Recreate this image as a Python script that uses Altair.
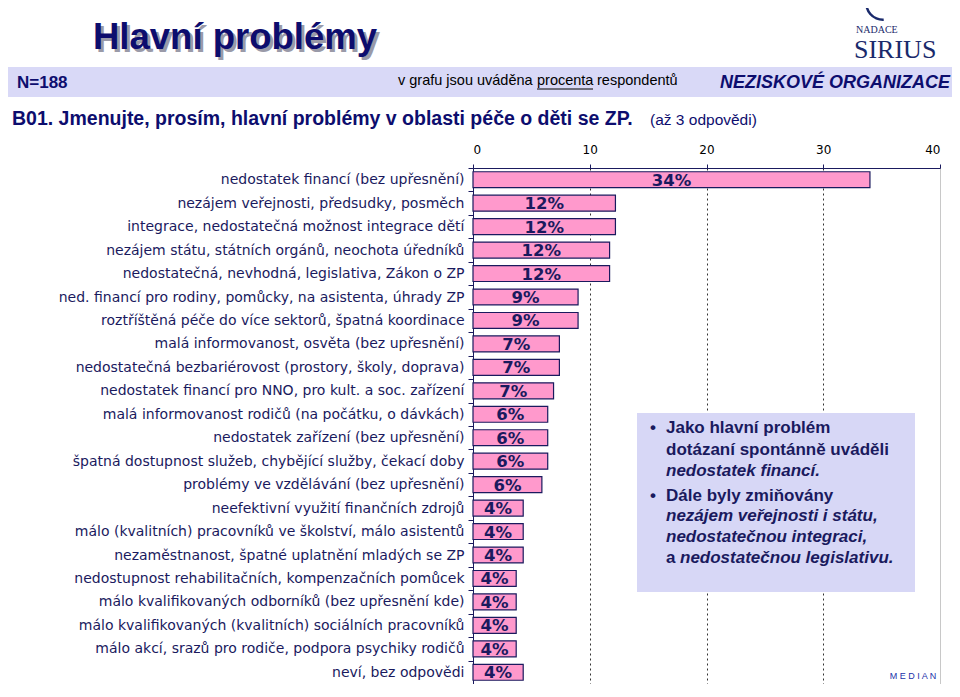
import altair as alt
import pandas as pd

categories = [
    "nedostatek financí (bez upřesnění)",
    "nezájem veřejnosti, předsudky, posměch",
    "integrace, nedostatečná možnost integrace dětí",
    "nezájem státu, státních orgánů, neochota úředníků",
    "nedostatečná, nevhodná, legislativa, Zákon o ZP",
    "ned. financí pro rodiny, pomůcky, na asistenta, úhrady ZP",
    "roztříštěná péče do více sektorů, špatná koordinace",
    "malá informovanost, osvěta (bez upřesnění)",
    "nedostatečná bezbariérovost (prostory, školy, doprava)",
    "nedostatek financí pro NNO, pro kult. a soc. zařízení",
    "malá informovanost rodičů (na počátku, o dávkách)",
    "nedostatek zařízení (bez upřesnění)",
    "špatná dostupnost služeb, chybějící služby, čekací doby",
    "problémy ve vzdělávání (bez upřesnění)",
    "neefektivní využití finančních zdrojů",
    "málo (kvalitních) pracovníků ve školství, málo asistentů",
    "nezaměstnanost, špatné uplatnění mladých se ZP",
    "nedostupnost rehabilitačních, kompenzačních pomůcek",
    "málo kvalifikovaných odborníků (bez upřesnění kde)",
    "málo kvalifikovaných (kvalitních) sociálních pracovníků",
    "málo akcí, srazů pro rodiče, podpora psychiky rodičů",
    "neví, bez odpovědi",
]
values = [34.0, 12.2, 12.2, 11.7, 11.7, 9.0, 9.0, 7.4, 7.4, 6.9, 6.4, 6.4,
          6.4, 5.9, 4.3, 4.3, 4.3, 3.7, 3.7, 3.7, 3.7, 4.3]
labels = ["34%", "12%", "12%", "12%", "12%", "9%", "9%", "7%", "7%", "7%",
          "6%", "6%", "6%", "6%", "4%", "4%", "4%", "4%", "4%", "4%", "4%", "4%"]
x_ticks = [0, 10, 20, 30, 40]

NAVY = "#1a1a5e"
TITLE_NAVY = "#0d0d6e"
PINK = "#ff99cc"
BAND = "#d9d9f7"
BOX = "#d7d7f6"

df = pd.DataFrame({"cat": categories, "v": values, "lab": labels})

x_scale = alt.Scale(domain=[0, 40], nice=False)
x_axis = alt.Axis(
    orient="top", values=x_ticks, title=None,
    labelFont="DejaVu Sans", labelFontSize=12, labelColor="#000000",
    labelPadding=8, tickSize=4, tickColor=NAVY, domainColor=NAVY,
    grid=True, gridColor="#333333", gridDash=[2, 3], gridWidth=1,
    gridOpacity={"condition": {"test": "datum.value == 0 || datum.value == 40", "value": 0}, "value": 1},
)
y_scale = alt.Scale(paddingInner=0, paddingOuter=0)
y_axis = alt.Axis(
    title=None, labelLimit=0, labelFont="DejaVu Sans", labelFontSize=14,
    labelColor=NAVY, labelPadding=4, tickSize=5, tickColor=NAVY,
    tickBand="extent", domainColor=NAVY, grid=False,
)

base = alt.Chart(df)
bars = base.mark_bar(color=PINK, stroke=NAVY, strokeWidth=1.2,
                     height={"band": 0.68}).encode(
    x=alt.X("v:Q", scale=x_scale, axis=x_axis, title=None),
    y=alt.Y("cat:N", sort=categories, scale=y_scale, axis=y_axis, title=None),
)
bar_text = base.transform_calculate(mid="datum.v / 2").mark_text(
    font="DejaVu Sans", fontWeight="bold", fontSize=16.5, color=NAVY,
    align="center", baseline="middle", dy=1,
).encode(
    x=alt.X("mid:Q", scale=x_scale, axis=x_axis, title=None),
    y=alt.Y("cat:N", sort=categories, scale=y_scale, axis=y_axis, title=None),
    text="lab:N",
)

one = pd.DataFrame({"a": [0]})


def note(text, x, y, size, weight="normal", style="normal", color=NAVY,
         font="Liberation Sans", align="left", baseline="middle"):
    return alt.Chart(pd.DataFrame({"t": [text]})).mark_text(
        font=font, fontSize=size, fontWeight=weight, fontStyle=style,
        color=color, align=align, baseline=baseline,
    ).encode(x=alt.value(x), y=alt.value(y), text="t:N")


def box(x, x2, y, y2, color):
    return alt.Chart(one).mark_rect(color=color).encode(
        x=alt.value(x), x2=alt.value(x2), y=alt.value(y), y2=alt.value(y2))


band = box(-465, 479, -101, -71, BAND)
textbox = box(164, 442, 245, 424, BOX)

title_shadow = note("Hlavní problémy", -377, -116, 36.5, weight="bold",
                    color="#9a9aa8", baseline="alphabetic")
title = note("Hlavní problémy", -380, -119, 36.5, weight="bold",
             color=TITLE_NAVY, baseline="alphabetic")
n_txt = note("N=188", -456, -85, 17, weight="bold", color=TITLE_NAVY)
info1 = note("v grafu jsou uváděna", -75, -87, 14.5, color="#000000")
info2 = note("procenta", 64, -87, 14.5, color="#000000")
info3 = note("respondentů", 124, -87, 14.5, color="#000000")
underline = alt.Chart(one).mark_rule(color="#000000", strokeWidth=1).encode(
    x=alt.value(64), x2=alt.value(120), y=alt.value(-79))
org = note("NEZISKOVÉ ORGANIZACE", 477, -85, 18, weight="bold", style="italic",
           color=TITLE_NAVY, align="right")
question = note("B01. Jmenujte, prosím, hlavní problémy v oblasti péče o děti se ZP.",
                -461, -49, 19.5, weight="bold", color=TITLE_NAVY)
question2 = note("(až 3 odpovědi)", 177, -48, 15.5, color=TITLE_NAVY)

bx, tx = 177, 193
box_lines = [
    note("•", bx, 260, 17, weight="bold"),
    note("Jako hlavní problém", tx, 260, 17, weight="bold"),
    note("dotázaní spontánně uváděli", tx, 282, 17, weight="bold"),
    note("nedostatek financí.", tx, 303, 17, weight="bold", style="italic"),
    note("•", bx, 328, 17, weight="bold"),
    note("Dále byly zmiňovány", tx, 328, 17, weight="bold"),
    note("nezájem veřejnosti i státu,", tx, 348, 17, weight="bold", style="italic"),
    note("nedostatečnou integraci,", tx, 369, 17, weight="bold", style="italic"),
    note("a", tx, 390, 17, weight="bold"),
    note("nedostatečnou legislativu.", tx + 14, 390, 17, weight="bold", style="italic"),
]

sirius_arc = alt.Chart(one).mark_arc(radius=18, radius2=15.5, theta=3.1,
                                     theta2=4.9, color="#1a2a6c").encode(
    x=alt.value(410), y=alt.value(-165))
nadace = note("NADACE", 383, -138, 10, font="Liberation Serif", color="#1a2a6c")
sirius = note("SIRIUS", 381, -118, 26, font="Liberation Serif", color="#1a2a6c")
median = note("M E D I A N", 440, 508, 9, color="#2233aa", align="center")

chart = alt.layer(
    band, textbox, bars, bar_text,
    title_shadow, title, n_txt, info1, info2, info3, underline, org,
    question, question2, *box_lines, sirius_arc, nadace, sirius, median,
).properties(
    width=467, height=516, autosize="none",
    padding={"left": 465, "top": 160, "right": 12, "bottom": 0},
    background="white",
).configure_view(stroke="#c8c8c8")

chart.save("out.html", embed_options={"renderer": "svg", "actions": False})
